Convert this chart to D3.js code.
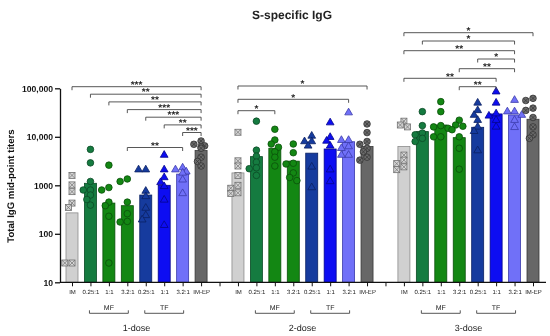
<!DOCTYPE html>
<html><head><meta charset="utf-8">
<script src="https://cdn.jsdelivr.net/npm/d3@7"></script>
<style>
body{margin:0;background:#fff}
svg{display:block;transform:translateZ(0)}
text{font-family:"Liberation Sans",Arial,Helvetica,sans-serif;text-rendering:geometricPrecision}
</style>
</head><body>
<svg id="chart" width="550" height="336"></svg>
<script>
// ---------------- DATA ----------------
const title = "S-specific IgG";
const yAxisTitle = "Total IgG mid-point titers";
const doses = ["1-dose", "2-dose", "3-dose"];
const conditions = ["IM", "0.25:1", "1:1", "3.2:1", "0.25:1", "1:1", "3.2:1", "IM-EP"];
const subGroups = [["MF", 1, 3], ["TF", 4, 6]];
const yTickValues = [10, 100, 1000, 10000, 100000];
const yTickLabels = ["10", "100", "1000", "10,000", "100,000"];

// bar heights (geometric means) per dose, in condition order
const means1 = [270, 1100, 430, 380, 630, 1000, 1700, 5200];
const means2 = [1800, 3900, 5800, 3150, 4600, 5600, 7900, 6300];
const means3 = [6300, 12800, 17500, 9600, 15700, 29600, 28200, 23000];

// individual animal titers
const points1 = [
  [1600, 1020, 740, 430, 350, 25, 25],
  [5500, 2900, 1200, 800, 800, 630, 510, 390],
  [2600, 900, 800, 450, 380, 230, 25],
  [1350, 1200, 450, 260, 180, 175],
  [2100, 2100, 760, 590, 340, 240, 195],
  [4200, 2100, 1450, 1150, 950, 500, 150],
  [2300, 2100, 1900, 1800, 1300, 680],
  [8200, 7000, 6500, 6200, 5800, 3800, 3100, 2500]
];
const points2 = [
  [12400, 3200, 2500, 1600, 1000, 870, 700, 680],
  [21000, 5300, 4000, 3000, 2300, 2200, 1600],
  [14300, 8600, 7100, 6100, 4900, 3800, 2500],
  [7100, 4700, 2850, 2750, 1800, 1450, 1250],
  [10400, 8000, 8000, 6500, 2400, 900],
  [19600, 9800, 8200, 6500, 2100, 1200],
  [31500, 8500, 8500, 6300, 5800, 4200, 4200],
  [18400, 12200, 8000, 7000, 5800, 4900, 3800, 3300]
];
const points3 = [
  [21000, 17500, 16000, 4200, 3300, 2800, 2400, 2100],
  [33000, 17000, 12000, 11000, 9300, 8000],
  [53000, 33000, 17000, 16000, 15000, 10000, 10000],
  [22000, 17500, 16500, 14000, 10000, 5800, 2150],
  [50000, 35000, 28000, 22000, 16000, 13000, 5200],
  [85000, 50000, 30000, 27000, 22000, 16000],
  [57000, 33000, 33000, 28000, 22000, 15700],
  [62000, 56000, 39000, 35000, 25000, 16000, 11000, 9300]
];

// significance comparisons: [from condition, to condition, label]
const sig1 = [[0,7,"***"],[1,7,"**"],[2,7,"**"],[3,7,"***"],[4,7,"***"],[5,7,"**"],[6,7,"***"],[3,6,"**"]];
const sig2 = [[0,7,"*"],[0,6,"*"],[0,2,"*"]];
const sig3 = [[0,7,"*"],[1,6,"*"],[0,6,"**"],[4,6,"*"],[3,6,"**"],[0,5,"**"],[3,5,"**"]];

// ---------------- LAYOUT / STYLE ----------------
const bracketRows = [
  [86.7, 94.2, 101.9, 109.6, 117.2, 124.9, 132.5, 147.5],
  [86.0, 99.3, 110.7],
  [32.7, 41.0, 50.7, 59.0, 68.7, 78.3, 86.7]
];
const styles = [
  {fill:"#d0d0d0", stroke:"#8c8c8c", shape:"boxx", mfill:"#d6d6d6", mstroke:"#707070"},
  {fill:"#157b40", stroke:"#0b4a26", shape:"circle"},
  {fill:"#138713", stroke:"#0a4f0a", shape:"circle"},
  {fill:"#138713", stroke:"#0a4f0a", shape:"circle"},
  {fill:"#163b9e", stroke:"#0b2163", shape:"tri"},
  {fill:"#0d0df2", stroke:"#05058c", shape:"tri"},
  {fill:"#7070f8", stroke:"#3b3bab", shape:"tri"},
  {fill:"#676767", stroke:"#383838", shape:"circx", mfill:"#6b6b6b", mstroke:"#333"}
];

const means = [means1, means2, means3];
const points = [points1, points2, points3];
const sigs = [sig1, sig2, sig3];

const svg = d3.select("#chart");
const slots = d3.range(26);
const x = d3.scalePoint().domain(slots).range([72, 533]);
const y = d3.scaleLog().domain([10, 100000]).range([282.3, 88.3]);
const slotOf = (g, c) => g * 9 + c;
const barW = 12;

// title
svg.append("text").attr("x", 292).attr("y", 19).attr("text-anchor", "middle")
  .attr("font-size", 12).attr("font-weight", "bold").attr("fill", "#222").text(title);

// y axis title
svg.append("text").attr("transform", "translate(14,186) rotate(-90)")
  .attr("text-anchor", "middle").attr("font-size", 9.6).attr("font-weight", "bold")
  .attr("fill", "#111").text(yAxisTitle);

// bars
const plot = svg.append("g");
means.forEach((arr, g) => {
  plot.selectAll(null).data(arr).join("rect")
    .attr("x", (d, c) => x(slotOf(g, c)) - barW / 2)
    .attr("width", barW)
    .attr("y", d => y(d))
    .attr("height", d => y(10) - y(d))
    .attr("fill", (d, c) => styles[c].fill)
    .attr("stroke", (d, c) => styles[c].stroke)
    .attr("stroke-width", 0.8);
});

// dodge points
const R = 3.3;
function dodge(vals, cx) {
  const placed = [];
  const sorted = vals.map(v => ({v, py: y(v)})).sort((a, b) => a.py - b.py);
  const offs = [0, -1, 1, -2, 2].map(k => k * 3.6);
  for (const p of sorted) {
    let chosen = null;
    for (const o of offs) {
      if (placed.every(q => Math.hypot(q.px - (cx + o), q.py - p.py) >= 5.0)) { chosen = o; break; }
    }
    if (chosen === null) chosen = 0;
    p.px = cx + chosen;
    placed.push(p);
  }
  return placed;
}
const triPath = d3.symbol(d3.symbolTriangle).size(26)();
points.forEach((grp, g) => {
  grp.forEach((vals, c) => {
    const st = styles[c];
    const pts = dodge(vals, x(slotOf(g, c)));
    const mg = plot.append("g");
    pts.forEach(p => {
      const fill = st.mfill || st.fill, stroke = st.mstroke || st.stroke;
      if (st.shape === "circle") {
        mg.append("circle").attr("cx", p.px).attr("cy", p.py).attr("r", R)
          .attr("fill", fill).attr("stroke", stroke).attr("stroke-width", 0.8);
      } else if (st.shape === "tri") {
        mg.append("path").attr("d", triPath).attr("transform", `translate(${p.px},${p.py})`)
          .attr("fill", fill).attr("stroke", stroke).attr("stroke-width", 0.8);
      } else if (st.shape === "boxx") {
        const s = 3;
        mg.append("rect").attr("x", p.px - s).attr("y", p.py - s).attr("width", 2 * s).attr("height", 2 * s)
          .attr("fill", fill).attr("stroke", stroke).attr("stroke-width", 0.8);
        mg.append("path").attr("d", `M${p.px - s},${p.py - s}L${p.px + s},${p.py + s}M${p.px + s},${p.py - s}L${p.px - s},${p.py + s}`)
          .attr("stroke", stroke).attr("stroke-width", 0.7);
      } else {
        const s = 2.2;
        mg.append("circle").attr("cx", p.px).attr("cy", p.py).attr("r", R)
          .attr("fill", fill).attr("stroke", stroke).attr("stroke-width", 0.8);
        mg.append("path").attr("d", `M${p.px - s},${p.py - s}L${p.px + s},${p.py + s}M${p.px + s},${p.py - s}L${p.px - s},${p.py + s}`)
          .attr("stroke", stroke).attr("stroke-width", 0.7);
      }
    });
  });
});

// significance brackets
sigs.forEach((list, g) => {
  list.forEach(([a, b, lab], k) => {
    const x1 = x(slotOf(g, a)), x2 = x(slotOf(g, b)), yy = bracketRows[g][k];
    svg.append("path").attr("d", `M${x1},${yy + 3.5}V${yy}H${x2}V${yy + 3.5}`)
      .attr("fill", "none").attr("stroke", "#444").attr("stroke-width", 0.9);
    svg.append("text").attr("x", (x1 + x2) / 2).attr("y", yy + 1.2).attr("text-anchor", "middle")
      .attr("font-size", 10).attr("font-weight", "bold").attr("fill", "#222").text(lab);
  });
});

// y axis
const yAxis = svg.append("g").attr("transform", "translate(60,0)")
  .call(d3.axisLeft(y).tickValues(yTickValues).tickSize(5).tickSizeOuter(0)
    .tickFormat((d, i) => yTickLabels[i]));
yAxis.select(".domain").attr("stroke", "#111").attr("stroke-width", 1.3);
yAxis.selectAll(".tick line").attr("stroke", "#111").attr("stroke-width", 1.3);
yAxis.selectAll(".tick text").attr("font-size", 8.6).attr("font-weight", "bold")
  .attr("fill", "#111").attr("font-family", '"Liberation Sans",Arial,sans-serif').attr("x", -7);

// x axis
const xLabels = slots.map(s => (s % 9 === 8) ? "" : conditions[s % 9]);
const xAxis = svg.append("g").attr("transform", `translate(0,${y(10)})`)
  .call(d3.axisBottom(x).tickSize(4).tickSizeOuter(0).tickFormat((d, i) => xLabels[i]));
xAxis.select(".domain").attr("d", "M60,0H546").attr("stroke", "#111").attr("stroke-width", 1.3);
xAxis.selectAll(".tick line").attr("stroke", "#111").attr("stroke-width", 1);
xAxis.selectAll(".tick text").attr("font-size", 6).attr("fill", "#222")
  .attr("font-family", '"Liberation Sans",Arial,sans-serif').attr("y", 7);

// sub-group brackets and dose labels
doses.forEach((dose, g) => {
  subGroups.forEach(([lab, a, b]) => {
    const x1 = x(slotOf(g, a)) - 1, x2 = x(slotOf(g, b)) + 1, yy = 313.3;
    svg.append("path").attr("d", `M${x1},${yy - 3}V${yy}H${x2}V${yy - 3}`)
      .attr("fill", "none").attr("stroke", "#444").attr("stroke-width", 0.9);
    svg.append("text").attr("x", (x1 + x2) / 2).attr("y", 309.8).attr("text-anchor", "middle")
      .attr("font-size", 7).attr("fill", "#222").text(lab);
  });
  const cx = (x(slotOf(g, 0)) + x(slotOf(g, 7))) / 2;
  svg.append("text").attr("x", cx).attr("y", 330.5).attr("text-anchor", "middle")
    .attr("font-size", 9).attr("fill", "#222").text(dose);
});
</script>
</body></html>
